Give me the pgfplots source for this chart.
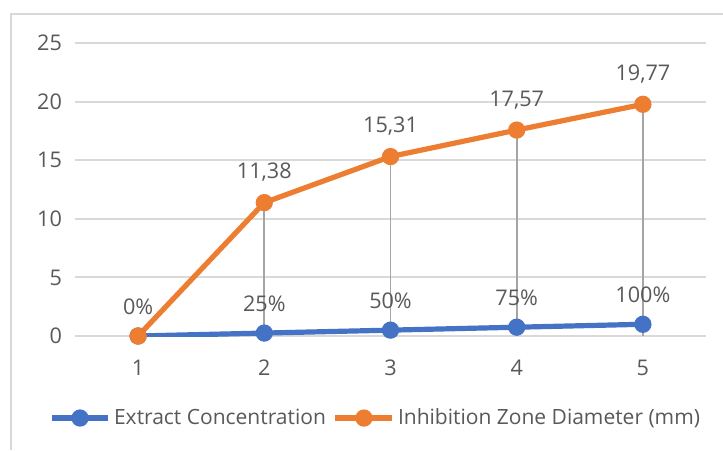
\documentclass[border=0pt]{standalone}
\usepackage{pgfplots}
\pgfplotsset{compat=1.18}
\usepackage{pgfplotstable}
\usepackage{fontspec}
\setmainfont{Open Sans}

\definecolor{xlblue}{HTML}{4472C4}
\definecolor{xlorange}{HTML}{ED7D31}
\definecolor{xlgrid}{HTML}{D9D9D9}
\definecolor{xltext}{HTML}{595959}
\definecolor{xldrop}{HTML}{A5A5A5}

\pgfplotstableread{
x  y     lbl
1  0     0\%
2  0.25  25\%
3  0.50  50\%
4  0.75  75\%
5  1.00  100\%
}\concentration

\pgfplotstableread{
x  y      lbl
1  0      {}
2  11.38  11,38
3  15.31  15,31
4  17.57  17,57
5  19.77  19,77
}\inhibition

\begin{document}
\begin{tikzpicture}
  \useasboundingbox (-37.5pt,-57pt) rectangle (324pt,168pt);
  \draw[xlgrid, line width=1pt] (-32pt,-57pt) -- (-32pt,161pt) -- (324pt,161pt);
  \begin{axis}[
      scale only axis,
      width=315.5pt, height=146.5pt,
      xmin=0.5, xmax=5.5,
      ymin=0, ymax=25,
      xtick={1,2,3,4,5},
      ytick={0,5,10,15,20,25},
      ymajorgrids,
      grid style={xlgrid, line width=1pt},
      axis line style={draw=none},
      tick style={draw=none},
      font=\fontsize{10.8pt}{13pt}\selectfont,
      tick label style={text=xltext},
      /pgf/number format/assume math mode=true,
      xticklabel style={yshift=-8.5pt},
      yticklabel style={xshift=-3pt},
      legend columns=2,
      legend style={at={(0.477,-0.28)}, anchor=center, draw=none,
        font=\fontsize{10.5pt}{12pt}\selectfont, text=xltext,
        nodes={inner xsep=1.5pt},
        /tikz/every even column/.append style={column sep=2pt}},
      legend cell align=left,
      legend image code/.code={
        \draw[mark repeat=2, mark phase=2]
          plot coordinates {(0cm,0cm) (0.5cm,0cm) (1cm,0cm)};},
      every node near coord/.append style={text=xltext, yshift=6pt,
        font=\fontsize{10.8pt}{13pt}\selectfont},
    ]
    \addplot[xlblue, line width=2.6pt, mark=*, mark size=3pt,
        nodes near coords, point meta=explicit symbolic]
      table[x=x, y=y, meta=lbl] {\concentration};
    \addlegendentry{Extract Concentration}
    \addplot[xldrop, line width=0.9pt, ycomb, forget plot]
      table[x=x, y=y] {\inhibition};
    \addplot[xlorange, line width=2.6pt, mark=*, mark size=3pt,
        nodes near coords, point meta=explicit symbolic]
      table[x=x, y=y, meta=lbl] {\inhibition};
    \addlegendentry{Inhibition Zone Diameter (mm)}
  \end{axis}
\end{tikzpicture}
\end{document}
